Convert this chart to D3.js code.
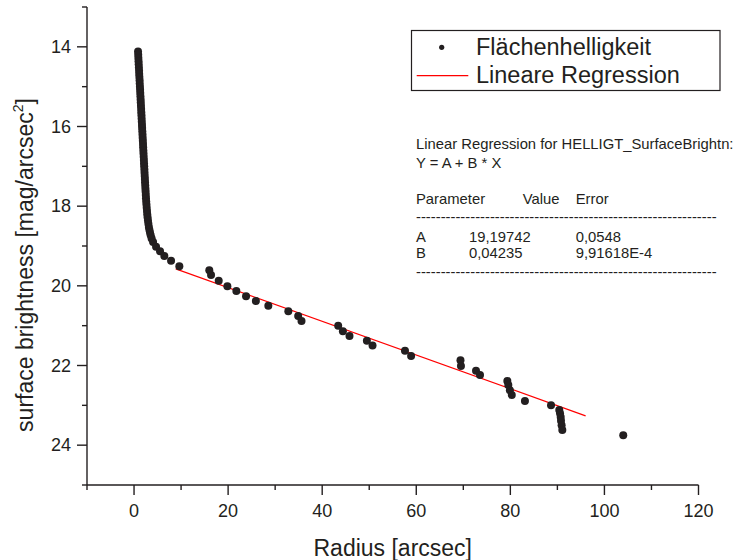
<!DOCTYPE html>
<html>
<head>
<meta charset="utf-8">
<script src="https://cdn.jsdelivr.net/npm/d3@7"></script>
<style>
  html, body { margin: 0; padding: 0; background: #fff; }
  svg { display: block; font-family: "Liberation Sans", Arial, sans-serif; }
</style>
</head>
<body>
<svg id="chart" width="736" height="560"></svg>
<script>
// ---- data ----
const radius = [
  0.85, 0.89, 0.92, 0.96, 0.99, 1.03, 1.07, 1.10, 1.14, 1.18,
  1.21, 1.25, 1.29, 1.32, 1.36, 1.40, 1.43, 1.47, 1.51, 1.54,
  1.58, 1.61, 1.65, 1.69, 1.72, 1.76, 1.80, 1.83, 1.87, 1.91,
  1.94, 1.98, 2.01, 2.05, 2.09, 2.12, 2.16, 2.20, 2.23, 2.27,
  2.31, 2.34, 2.38, 2.42, 2.46, 2.50, 2.54, 2.59, 2.64, 2.69,
  2.75, 2.81, 2.88, 2.96, 3.05, 3.15, 3.26, 3.39, 3.54, 3.74,
  4.05, 4.68, 5.53, 6.44, 7.87, 9.63,
  16.0, 16.37, 18.0, 19.84, 21.75, 23.81, 25.9, 28.55, 32.8, 34.9,
  35.6, 43.4, 44.4, 45.8, 49.5, 50.7, 57.6, 58.9, 69.4, 69.5,
  72.7, 73.55, 79.36, 79.57, 79.9, 80.3, 83.1, 88.65, 90.4, 90.56,
  90.7, 90.77, 90.9, 91.05, 104.0
];
const brightness = [
  14.12, 14.20, 14.28, 14.36, 14.44, 14.52, 14.60, 14.68, 14.76, 14.84,
  14.92, 15.00, 15.08, 15.16, 15.24, 15.32, 15.40, 15.48, 15.56, 15.64,
  15.72, 15.80, 15.88, 15.96, 16.04, 16.12, 16.20, 16.28, 16.36, 16.44,
  16.52, 16.60, 16.68, 16.76, 16.84, 16.92, 17.00, 17.08, 17.16, 17.24,
  17.32, 17.40, 17.48, 17.56, 17.64, 17.72, 17.80, 17.88, 17.96, 18.04,
  18.12, 18.20, 18.28, 18.36, 18.44, 18.52, 18.59, 18.66, 18.73, 18.81,
  18.90, 19.02, 19.13, 19.25, 19.37, 19.51,
  19.61, 19.73, 19.87, 20.01, 20.13, 20.26, 20.38, 20.50, 20.64, 20.76,
  20.88, 21.00, 21.14, 21.26, 21.38, 21.50, 21.63, 21.76, 21.87, 22.01,
  22.13, 22.24, 22.39, 22.49, 22.62, 22.74, 22.89, 23.00, 23.12, 23.20,
  23.29, 23.39, 23.50, 23.62, 23.75
];
// regression Y = A + B*X, drawn over this radius range
const regA = 19.19742;
const regB = 0.04235;
const regRange = [8.86, 96.0];

const xTicks = [-10, 0, 10, 20, 30, 40, 50, 60, 70, 80, 90, 100, 110, 120];
const xLabels = [0, 20, 40, 60, 80, 100, 120];
const yTicks = [13, 14, 15, 16, 17, 18, 19, 20, 21, 22, 23, 24, 25];
const yLabels = [14, 16, 18, 20, 22, 24];

const legendLabels = ["Flächenhelligkeit", "Lineare Regression"];
const statLines = [
  "Linear Regression for HELLIGT_SurfaceBrightn:",
  "Y = A + B * X"
];
const paramHeader = ["Parameter", "Value", "Error"];
const paramNames = ["A", "B"];
const paramValues = ["19,19742", "0,04235"];
const paramErrors = ["0,0548", "9,91618E-4"];

// ---- drawing ----
const ink = "#231f20";
const svg = d3.select("#chart");
svg.append("rect").attr("width", 736).attr("height", 560).attr("fill", "#fff");

const x = d3.scaleLinear().domain([-10, 120]).range([87, 698.5]);
const y = d3.scaleLinear().domain([13, 25]).range([7, 485]);

// axes
const xAxis = svg.append("g").attr("transform", `translate(0,${y(25)})`);
xAxis.append("line").attr("x1", x(-10)).attr("x2", x(120)).attr("stroke", ink).attr("stroke-width", 1.4);
xAxis.selectAll("line.t").data(xTicks).join("line").attr("class", "t")
  .attr("x1", d => x(d)).attr("x2", d => x(d))
  .attr("y1", 0).attr("y2", d => xLabels.includes(d) ? 10 : 5)
  .attr("stroke", ink).attr("stroke-width", 1.4);
xAxis.selectAll("text").data(xLabels).join("text")
  .attr("x", d => x(d)).attr("y", 32).attr("text-anchor", "middle")
  .attr("font-size", 18).attr("fill", ink).text(d => d);

const yAxis = svg.append("g").attr("transform", `translate(${x(-10)},0)`);
yAxis.append("line").attr("y1", y(13)).attr("y2", y(25)).attr("stroke", ink).attr("stroke-width", 1.4);
yAxis.selectAll("line.t").data(yTicks).join("line").attr("class", "t")
  .attr("y1", d => y(d)).attr("y2", d => y(d))
  .attr("x1", 0).attr("x2", d => yLabels.includes(d) ? -10 : -5)
  .attr("stroke", ink).attr("stroke-width", 1.4);
yAxis.selectAll("text").data(yLabels).join("text")
  .attr("x", -16).attr("y", d => y(d)).attr("dy", "0.35em").attr("text-anchor", "end")
  .attr("font-size", 18).attr("fill", ink).text(d => d);

// axis titles
svg.append("text").attr("x", (x(-10) + x(120)) / 2).attr("y", 556)
  .attr("text-anchor", "middle").attr("font-size", 23).attr("fill", ink)
  .text("Radius [arcsec]");
const yt = svg.append("text").attr("transform", "translate(33,265) rotate(-90)")
  .attr("text-anchor", "middle").attr("font-size", 23).attr("fill", ink);
yt.append("tspan").text("surface brightness [mag/arcsec");
yt.append("tspan").attr("font-size", 14).attr("dy", -10).text("2");
yt.append("tspan").attr("dy", 10).text("]");

// regression line
svg.append("line")
  .attr("x1", x(regRange[0])).attr("y1", y(regA + regB * regRange[0]))
  .attr("x2", x(regRange[1])).attr("y2", y(regA + regB * regRange[1]))
  .attr("stroke", "#ff0000").attr("stroke-width", 1.2);

// points
svg.append("g").selectAll("circle").data(radius.map((r, i) => [r, brightness[i]]))
  .join("circle").attr("cx", d => x(d[0])).attr("cy", d => y(d[1])).attr("r", 4)
  .attr("fill", ink);

// legend
const lg = svg.append("g");
lg.append("rect").attr("x", 411.5).attr("y", 30.5).attr("width", 308.5).attr("height", 60)
  .attr("fill", "none").attr("stroke", ink).attr("stroke-width", 1.2);
lg.append("circle").attr("cx", 441.7).attr("cy", 47.3).attr("r", 2.6).attr("fill", ink);
lg.append("line").attr("x1", 416.7).attr("x2", 468.3).attr("y1", 75.7).attr("y2", 75.7)
  .attr("stroke", "#ff0000").attr("stroke-width", 1.2);
lg.selectAll("text").data(legendLabels).join("text")
  .attr("x", 476).attr("y", (d, i) => i === 0 ? 55 : 83.3)
  .attr("font-size", 23.5).attr("fill", ink).text(d => d);

// statistics text
const st = svg.append("g").attr("font-size", 14.8).attr("fill", ink);
st.selectAll("text.h").data(statLines).join("text").attr("class", "h")
  .attr("x", 416).attr("y", (d, i) => i === 0 ? 149.3 : 167.7).text(d => d);
const colX = [416, 469, 575.7];
const hdrX = [416, 522.7, 575.7];
st.selectAll("text.p").data(paramHeader).join("text").attr("class", "p")
  .attr("x", (d, i) => hdrX[i]).attr("y", 204.3).text(d => d);
const dashes = "-".repeat(61);
st.append("text").attr("x", 416).attr("y", 222.3).text(dashes);
paramNames.forEach((n, i) => {
  const by = i === 0 ? 241.7 : 258.3;
  st.append("text").attr("x", colX[0]).attr("y", by).text(n);
  st.append("text").attr("x", colX[1]).attr("y", by).text(paramValues[i]);
  st.append("text").attr("x", colX[2]).attr("y", by).text(paramErrors[i]);
});
st.append("text").attr("x", 416).attr("y", 277.3).text(dashes);
</script>
</body>
</html>
